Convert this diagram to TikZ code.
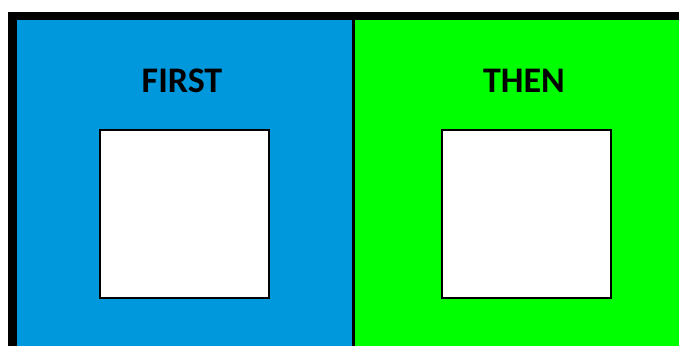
\documentclass[tikz,border=0pt]{standalone}
\usepackage{fontspec}
\setmainfont{Carlito}
\definecolor{panelblue}{RGB}{0,152,220}
\definecolor{panelgreen}{RGB}{0,255,0}
\begin{document}
\begin{tikzpicture}[x=1pt,y=-1pt,
  panel/.style={draw=none},
  card/.style={draw=black,line width=2.6pt,fill=white,minimum width=169pt,minimum height=168pt,inner sep=0pt,anchor=north west},
  title/.style={font=\bfseries\fontsize{36}{40}\selectfont,text=black,inner sep=0pt}]
\useasboundingbox (0,0) rectangle (679,346);
\fill[white] (0,0) rectangle (679,346);
\fill[black] (8,12) rectangle (679,346);
\fill[panelblue] (16.5,20) rectangle (352,346);
\fill[panelgreen] (355,20) rectangle (679,346);
\node[card] (first) at (98.5,128.5) {};
\node[card] (then) at (440.5,128.5) {};
\node[title] (firstlabel) at (182,81) {FIRST};
\node[title] (thenlabel) at (524,81) {THEN};
\end{tikzpicture}
\end{document}
